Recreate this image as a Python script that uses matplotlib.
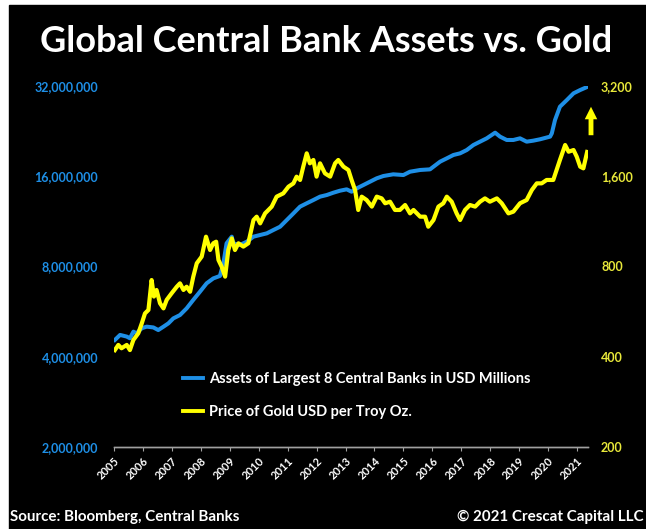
"""
Global central bank assets vs. gold price, redrawn from a Crescat Capital chart.
"""

import matplotlib

matplotlib.use("Agg")

import matplotlib.pyplot as plt
from matplotlib.lines import Line2D
from matplotlib.patches import Rectangle
from matplotlib.ticker import FixedLocator, NullLocator

# Assets of largest 8 central banks (USD millions)
asset_years = [2005.03, 2005.21, 2005.44, 2005.55, 2005.67, 2005.78, 2005.96, 2006.13,
               2006.36, 2006.53, 2006.71, 2006.88, 2007.05, 2007.28, 2007.51, 2007.74,
               2007.97, 2008.20, 2008.43, 2008.66, 2008.78, 2008.89, 2009.07, 2009.12,
               2009.35, 2009.59, 2009.82, 2010.05, 2010.28, 2010.51, 2010.74, 2010.97,
               2011.20, 2011.43, 2011.66, 2011.89, 2012.12, 2012.35, 2012.58, 2012.81,
               2013.04, 2013.21, 2013.39, 2013.62, 2013.85, 2014.08, 2014.31, 2014.65,
               2015.00, 2015.23, 2015.58, 2015.92, 2016.04, 2016.27, 2016.50, 2016.73,
               2016.96, 2017.19, 2017.42, 2017.65, 2017.88, 2018.17, 2018.34, 2018.57,
               2018.80, 2019.03, 2019.26, 2019.49, 2019.72, 2020.07, 2020.13, 2020.24,
               2020.41, 2020.65, 2020.88, 2021.11, 2021.35]
asset_values = [4.55e6, 4.73e6, 4.67e6, 4.61e6, 4.85e6, 4.79e6, 4.98e6, 5.04e6,
                5.01e6, 4.91e6, 5.04e6, 5.17e6, 5.37e6, 5.51e6, 5.80e6, 6.19e6,
                6.59e6, 7.03e6, 7.30e6, 7.44e6, 8.20e6, 9.56e6, 10.06e6, 9.56e6,
                9.44e6, 9.68e6, 10.06e6, 10.19e6, 10.32e6, 10.59e6, 10.86e6, 11.43e6,
                12.03e6, 12.67e6, 13.0e6, 13.33e6, 13.68e6, 13.85e6, 14.1e6, 14.32e6,
                14.47e6, 14.21e6, 14.58e6, 14.96e6, 15.35e6, 15.75e6, 16.03e6, 16.24e6,
                16.15e6, 16.57e6, 16.79e6, 16.87e6, 17.22e6, 17.9e6, 18.36e6, 18.84e6,
                19.08e6, 19.57e6, 20.34e6, 20.87e6, 21.41e6, 22.36e6, 21.69e6, 21.14e6,
                21.14e6, 21.41e6, 20.87e6, 21.03e6, 21.25e6, 21.69e6, 22.25e6, 24.64e6,
                27.3e6, 28.74e6, 30.25e6, 31.03e6, 31.76e6]

# Gold price, USD per troy ounce
gold_years = [2005.03, 2005.15, 2005.26, 2005.44, 2005.55, 2005.67, 2005.84, 2005.96,
              2006.07, 2006.19, 2006.30, 2006.38, 2006.47, 2006.59, 2006.71, 2006.82,
              2006.99, 2007.17, 2007.28, 2007.40, 2007.51, 2007.63, 2007.74, 2007.86,
              2008.03, 2008.18, 2008.32, 2008.43, 2008.53, 2008.61, 2008.72, 2008.84,
              2008.95, 2009.07, 2009.18, 2009.30, 2009.47, 2009.64, 2009.82, 2009.93,
              2010.05, 2010.22, 2010.45, 2010.62, 2010.85, 2011.03, 2011.20, 2011.31,
              2011.43, 2011.54, 2011.66, 2011.77, 2011.89, 2012.00, 2012.12, 2012.29,
              2012.47, 2012.64, 2012.75, 2012.93, 2013.10, 2013.21, 2013.33, 2013.44,
              2013.56, 2013.73, 2013.91, 2014.08, 2014.25, 2014.37, 2014.54, 2014.71,
              2014.88, 2015.06, 2015.23, 2015.35, 2015.58, 2015.75, 2015.86, 2016.04,
              2016.21, 2016.38, 2016.50, 2016.67, 2016.84, 2016.96, 2017.13, 2017.30,
              2017.48, 2017.65, 2017.82, 2017.99, 2018.23, 2018.40, 2018.63, 2018.80,
              2019.03, 2019.26, 2019.44, 2019.61, 2019.78, 2019.95, 2020.18, 2020.41,
              2020.59, 2020.71, 2020.88, 2020.99, 2021.11, 2021.22, 2021.35]
gold_values = [421, 438, 427, 438, 421, 455, 479, 517,
               558, 573, 721, 635, 668, 603, 580, 619,
               651, 685, 703, 668, 685, 659, 740, 820,
               863, 1006, 908, 956, 968, 841, 799, 740,
               908, 993, 908, 956, 932, 956, 1143, 1173,
               1114, 1203, 1267, 1368, 1403, 1477, 1515, 1595,
               1555, 1722, 1908, 1767, 1813, 1595, 1767, 1636,
               1595, 1767, 1813, 1722, 1679, 1555, 1440, 1235,
               1368, 1333, 1267, 1368, 1350, 1300, 1316, 1235,
               1235, 1283, 1203, 1235, 1173, 1173, 1086, 1143,
               1267, 1300, 1368, 1316, 1203, 1143, 1235, 1283,
               1267, 1316, 1350, 1316, 1350, 1300, 1203, 1219,
               1300, 1333, 1440, 1515, 1515, 1555, 1555, 1813,
               2034, 1932, 1957, 1860, 1722, 1700, 1928]

year_ticks = list(range(2005, 2022))
asset_ticks = [2e6, 4e6, 8e6, 16e6, 32e6]
gold_ticks = [200, 400, 800, 1600, 3200]

title = "Global Central Bank Assets vs. Gold"
asset_label = "Assets of Largest 8 Central Banks in USD Millions"
gold_label = "Price of Gold USD per Troy Oz."
source_text = "Source: Bloomberg, Central Banks"
copyright_text = "\u00a9 2021 Crescat Capital LLC"

BLUE = "#1e8fe6"
YELLOW = "#ffff00"
YELLOW_TEXT = "#e8e83a"
FONT = ["Lato", "DejaVu Sans"]


def main():
    plt.rcParams["font.family"] = FONT
    plt.rcParams["font.weight"] = "bold"

    fig = plt.figure(figsize=(6.46, 5.29), dpi=100, facecolor="white")
    # black panel with a thin white margin on the left and top
    fig.patches.append(Rectangle((9 / 646, 0), 1, (529 - 5) / 529,
                                 transform=fig.transFigure, color="black", zorder=-10))

    ax = fig.add_axes([114 / 646, (529 - 447) / 529, 474 / 646, 361 / 529])
    ax.set_facecolor("none")
    ax.plot(asset_years, asset_values, color=BLUE, lw=2.9, solid_joinstyle="round")
    ax.set_yscale("log")
    ax.set_ylim(2e6, 32e6)
    ax.yaxis.set_major_locator(FixedLocator(asset_ticks))
    ax.yaxis.set_minor_locator(NullLocator())
    ax.set_yticklabels([f"{int(v):,}" for v in asset_ticks])
    ax.tick_params(axis="y", length=0, pad=11.5, colors=BLUE, labelsize=9)

    ax2 = ax.twinx()
    ax2.plot(gold_years, gold_values, color=YELLOW, lw=3.0, solid_joinstyle="round")
    ax2.set_yscale("log")
    ax2.set_ylim(200, 3200)
    ax2.yaxis.set_major_locator(FixedLocator(gold_ticks))
    ax2.yaxis.set_minor_locator(NullLocator())
    ax2.set_yticklabels([f"{v:,}" for v in gold_ticks])
    ax2.tick_params(axis="y", length=0, pad=9.4, colors=YELLOW_TEXT, labelsize=9)

    ax.set_xlim(2005, 2021.38)
    ax.set_xticks(year_ticks)
    ax.set_xticklabels([str(y) for y in year_ticks], rotation=45, ha="right",
                       rotation_mode="anchor", color="white", fontsize=8)
    ax.tick_params(axis="x", direction="out", length=3, color="#a0a0a0", pad=3)

    for a in (ax, ax2):
        for side in ("top", "right", "left"):
            a.spines[side].set_visible(False)
        a.spines["bottom"].set_color("#a0a0a0")
        a.spines["bottom"].set_linewidth(1.0)

    handles = [Line2D([], [], color=BLUE, lw=2.8),
               Line2D([], [], color=YELLOW, lw=2.8)]
    leg = ax.legend(handles, [asset_label, gold_label], loc="upper left",
                    bbox_to_anchor=((183 - 114) / 474, (447 - 372) / 361),
                    frameon=False, fontsize=10.5, handlelength=1.4, handletextpad=0.4,
                    labelspacing=1.33, borderpad=0, borderaxespad=0)
    for text in leg.get_texts():
        text.set_color("white")

    fig.text(0.505, 1 - 42 / 529, title, ha="center", va="center",
             color="white", fontsize=26, fontweight="bold")
    fig.text(10 / 646, 1 - 517 / 529, source_text, ha="left", va="center",
             color="white", fontsize=10.9, fontweight="bold")
    fig.text(0.997, 1 - 517 / 529, copyright_text, ha="right", va="center",
             color="white", fontsize=10.9, fontweight="bold")

    # yellow up-arrow next to the latest readings
    ax.annotate("", xy=(591 / 646, 1 - 104 / 529), xytext=(591 / 646, 1 - 138 / 529),
                xycoords="figure fraction", textcoords="figure fraction",
                arrowprops=dict(arrowstyle="simple,head_width=0.9,head_length=0.9,tail_width=0.35",
                                color=YELLOW, lw=0))

    fig.savefig("out.png", dpi=100, facecolor=fig.get_facecolor())
    plt.close(fig)


if __name__ == "__main__":
    main()
